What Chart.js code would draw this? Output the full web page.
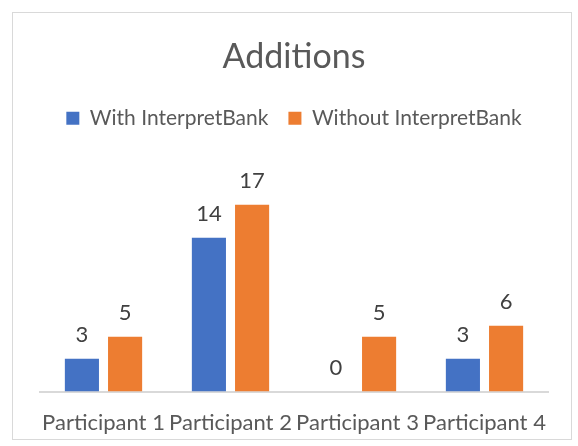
<!DOCTYPE html>
<html>
<head>
<meta charset="utf-8">
<script src="https://cdn.jsdelivr.net/npm/chart.js@4"></script>
<style>
  body { margin: 0; background: #fff; }
  #box { position: absolute; left: 12px; top: 12px; width: 558px; height: 426px; border: 1px solid #d9d9d9; }
  #wrap { position: absolute; left: 0; top: 0; width: 578px; height: 446px; }
</style>
</head>
<body>
<div id="box"></div>
<div id="wrap"><canvas id="myChart"></canvas></div>
<script>
  const labels = ['Participant 1', 'Participant 2', 'Participant 3', 'Participant 4'];
  const withIB = [3, 14, 0, 3];
  const withoutIB = [5, 17, 5, 6];

  // data labels above each bar
  const valueLabels = {
    id: 'valueLabels',
    afterDatasetsDraw(chart) {
      const ctx = chart.ctx;
      ctx.save();
      ctx.font = '22px Lato';
      ctx.fillStyle = '#404040';
      ctx.textAlign = 'center';
      ctx.textBaseline = 'middle';
      chart.data.datasets.forEach((ds, i) => {
        chart.getDatasetMeta(i).data.forEach((bar, j) => {
          ctx.fillText(ds.data[j], bar.x, bar.y - 24);
        });
      });
      ctx.restore();
    }
  };

  const data = {
    labels: labels,
    datasets: [{
      label: 'With InterpretBank',
      backgroundColor: '#4472C4',
      data: withIB,
    },
    {
      label: 'Without InterpretBank',
      backgroundColor: '#ED7D31',
      data: withoutIB,
    }]
  };

  const config = {
    type: 'bar',
    data: data,
    plugins: [valueLabels],
    options: {
      responsive: false,
      animation: false,
      datasets: { bar: { categoryPercentage: 0.68, barPercentage: 0.79 } },
      layout: { padding: { left: 40, right: 30, top: 30, bottom: 0 } },
      plugins: {
        title: {
          display: true,
          text: 'Additions',
          color: '#595959',
          font: { family: 'Lato', size: 34, weight: 'normal' },
          padding: { top: 7, bottom: 10 }
        },
        legend: {
          labels: {
            color: '#595959',
            font: { family: 'Lato', size: 21 },
            boxWidth: 13, boxHeight: 13,
            padding: 20
          }
        },
        tooltip: { enabled: false }
      },
      scales: {
        x: {
          grid: { display: false },
          border: { color: '#d9d9d9', width: 2 },
          ticks: { color: '#595959', font: { family: 'Lato', size: 22 }, maxRotation: 0, autoSkip: false, padding: 10 }
        },
        y: { display: false, min: 0, max: 23 }
      }
    }
  };

  const canvas = document.getElementById('myChart');
  canvas.width = 578; canvas.height = 446;
  new Chart(canvas, config);
</script>
</body>
</html>
